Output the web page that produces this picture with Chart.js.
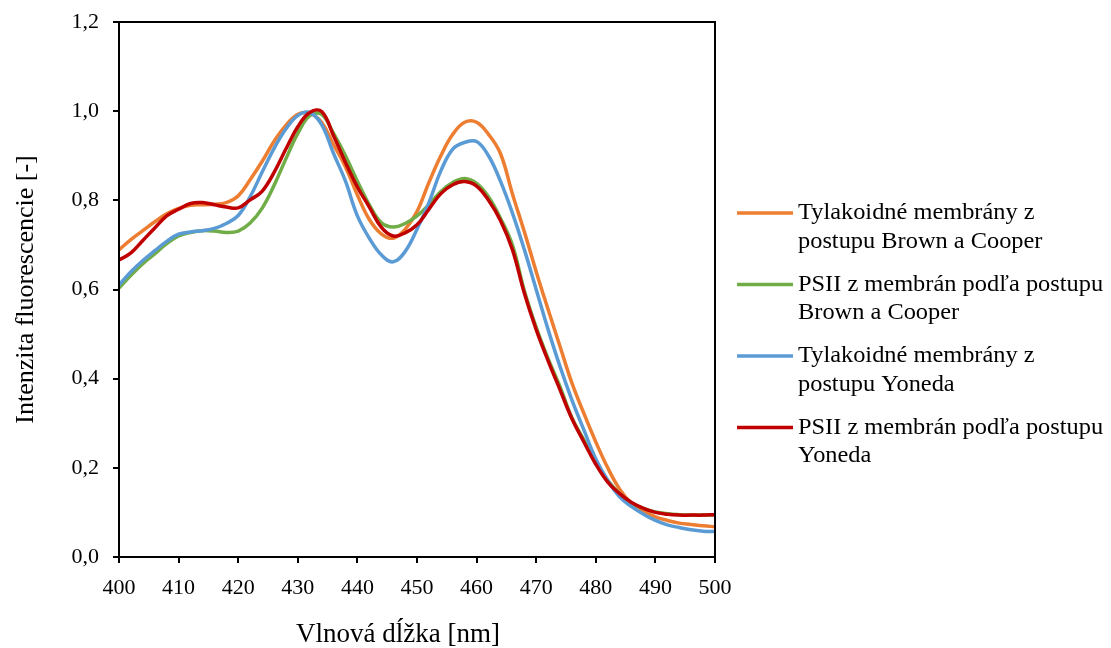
<!DOCTYPE html>
<html lang="sk">
<head>
  <meta charset="UTF-8" />
  <title>Intenzita fluorescencie</title>
  <script src="https://cdn.jsdelivr.net/npm/chart.js"></script>
  <style>
    body { margin: 0; background: #fff; }
    .chart-container { width: 1111px; height: 648px; position: relative; }
  </style>
</head>
<body>
  <div class="chart-container">
    <canvas id="spectraChart"></canvas>
  </div>

  <script>
    const wavelengths = [400, 402, 404, 406, 408, 410, 412, 414, 416, 418, 420, 422, 424, 426, 428, 430, 432, 434, 436, 438,
      440, 442, 444, 446, 448, 450, 452, 454, 456, 458, 460, 462, 464, 466, 468, 470, 472, 474, 476, 478,
      480, 482, 484, 486, 488, 490, 492, 494, 496, 498, 500];

    const seriesLabels = [
      ["Tylakoidné membrány z", "postupu Brown a Cooper"],
      ["PSII z membrán podľa postupu", "Brown a Cooper"],
      ["Tylakoidné membrány z", "postupu Yoneda"],
      ["PSII z membrán podľa postupu", "Yoneda"]
    ];
    const seriesColors = ["#ED7D31", "#70AD47", "#5B9BD5", "#C00000"];
    const xTitle = 'Vlnová dĺžka [nm]';
    const yTitle = 'Intenzita fluorescencie [-]';

    const tylakoidBrown = [0.689, 0.712, 0.732, 0.752, 0.770, 0.782, 0.789, 0.790, 0.791, 0.795, 0.810, 0.846, 0.887, 0.932, 0.968, 0.993, 0.995, 0.975, 0.925, 0.875,
      0.812, 0.757, 0.725, 0.715, 0.735, 0.775, 0.840, 0.900, 0.948, 0.975, 0.975, 0.948, 0.905, 0.815, 0.730, 0.640, 0.555, 0.472, 0.390, 0.322,
      0.258, 0.200, 0.152, 0.120, 0.103, 0.090, 0.082, 0.076, 0.073, 0.070, 0.068];

    const psiiBrown = [0.603, 0.632, 0.658, 0.680, 0.703, 0.720, 0.728, 0.732, 0.731, 0.728, 0.731, 0.749, 0.782, 0.833, 0.893, 0.950, 0.990, 0.993, 0.950, 0.900,
      0.843, 0.790, 0.750, 0.740, 0.748, 0.765, 0.790, 0.820, 0.840, 0.849, 0.838, 0.808, 0.760, 0.700, 0.598, 0.515, 0.445, 0.382, 0.312, 0.263,
      0.214, 0.172, 0.142, 0.121, 0.109, 0.101, 0.097, 0.095, 0.094, 0.094, 0.094];

    const tylakoidYoneda = [0.610, 0.640, 0.665, 0.687, 0.708, 0.724, 0.729, 0.732, 0.737, 0.748, 0.766, 0.808, 0.863, 0.916, 0.960, 0.990, 0.997, 0.970, 0.905, 0.843,
      0.765, 0.715, 0.678, 0.662, 0.685, 0.735, 0.795, 0.866, 0.915, 0.930, 0.932, 0.900, 0.843, 0.772, 0.690, 0.600, 0.510, 0.427, 0.352, 0.285,
      0.220, 0.172, 0.135, 0.113, 0.096, 0.082, 0.072, 0.066, 0.061, 0.058, 0.057];

    const psiiYoneda = [0.666, 0.682, 0.710, 0.738, 0.765, 0.780, 0.793, 0.795, 0.790, 0.785, 0.783, 0.801, 0.820, 0.862, 0.915, 0.965, 0.997, 0.999, 0.945, 0.885,
      0.830, 0.785, 0.740, 0.720, 0.727, 0.745, 0.780, 0.815, 0.835, 0.842, 0.832, 0.800, 0.755, 0.690, 0.592, 0.510, 0.440, 0.375, 0.310, 0.258,
      0.208, 0.168, 0.142, 0.122, 0.109, 0.100, 0.096, 0.094, 0.094, 0.094, 0.095];

    const allSeries = [tylakoidBrown, psiiBrown, tylakoidYoneda, psiiYoneda];
    const FONT = "'Liberation Serif', 'Times New Roman', serif";

    // box around plot, x title (sits left of centre in the original) and a two-line legend
    const boxAndLegend = {
      id: 'boxAndLegend',
      afterDraw(chart) {
        const ctx = chart.ctx;
        const a = chart.chartArea;
        ctx.save();
        ctx.strokeStyle = '#000';
        ctx.lineWidth = 2;
        ctx.strokeRect(a.left, a.top, a.right - a.left, a.bottom - a.top);

        ctx.fillStyle = '#000';
        ctx.font = '27px ' + FONT;
        ctx.textAlign = 'center';
        ctx.textBaseline = 'alphabetic';
        ctx.fillText(xTitle, 398, 642);

        ctx.font = '23px ' + FONT;
        ctx.textAlign = 'left';
        ctx.textBaseline = 'middle';
        seriesLabels.forEach((lines, i) => {
          const y0 = 213 + i * 71.5;
          ctx.strokeStyle = seriesColors[i];
          ctx.lineWidth = 3.5;
          ctx.beginPath();
          ctx.moveTo(a.right + 22, y0);
          ctx.lineTo(a.right + 78, y0);
          ctx.stroke();
          lines.forEach((t, j) => {
            ctx.save();
            ctx.translate(a.right + 83, y0 + j * 28.5);
            ctx.scale(1.06, 1);
            ctx.fillText(t, 0, 0);
            ctx.restore();
          });
        });
        ctx.restore();
      }
    };

    const ctx = document.getElementById('spectraChart').getContext('2d');
    new Chart(ctx, {
      type: 'line',
      data: {
        datasets: allSeries.map((vals, i) => ({
          label: seriesLabels[i].join(' '),
          data: wavelengths.map((w, k) => ({ x: w, y: vals[k] })),
          borderColor: seriesColors[i],
          borderWidth: 3.5,
          pointRadius: 0,
          tension: 0.4,
          fill: false,
          order: 4 - i
        }))
      },
      options: {
        responsive: true,
        maintainAspectRatio: false,
        animation: false,
        layout: { padding: { top: 22, right: 396, bottom: 0, left: 0 } },
        plugins: {
          legend: { display: false },
          tooltip: { enabled: false }
        },
        scales: {
          x: {
            type: 'linear',
            min: 400,
            max: 500,
            afterFit: s => { s.height = 91; s.paddingLeft = 0; s.paddingRight = 0; },
            ticks: {
              stepSize: 10,
              padding: 12,
              color: '#000',
              font: { family: FONT, size: 22 }
            },
            grid: { drawOnChartArea: false, tickLength: 6, color: '#000', lineWidth: 2 },
            border: { color: '#000', width: 2 },
            title: { display: false, text: xTitle }
          },
          y: {
            min: 0,
            max: 1.2,
            afterFit: s => { s.width = 119; s.paddingTop = 0; s.paddingBottom = 0; },
            ticks: {
              stepSize: 0.2,
              padding: 14,
              color: '#000',
              font: { family: FONT, size: 22 },
              callback: v => v.toFixed(1).replace('.', ',')
            },
            grid: { drawOnChartArea: false, tickLength: 6, color: '#000', lineWidth: 2 },
            border: { color: '#000', width: 2 },
            title: {
              display: true,
              text: yTitle,
              color: '#000',
              font: { family: FONT, size: 26 },
              padding: { top: 11, bottom: 0 }
            }
          }
        }
      },
      plugins: [boxAndLegend]
    });
  </script>
</body>
</html>
